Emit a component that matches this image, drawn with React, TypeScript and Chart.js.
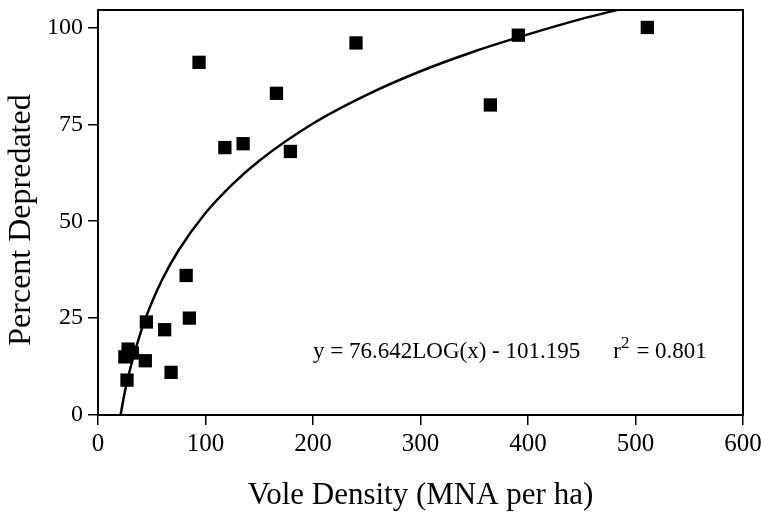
import React, { useEffect, useRef } from "react";
import { Chart, registerables } from "chart.js";

Chart.register(...registerables);

// Observed points: vole density (MNA per ha) vs percent depredated
const densityX = [27, 25, 28, 32, 44, 45, 62, 68, 82, 85, 94, 118, 135, 166, 179, 240, 365, 391, 511];
const depredatedY = [9, 15, 17, 16, 14, 24, 22, 11, 36, 25, 91, 69, 70, 83, 68, 96, 80, 98, 100];

// Fitted curve (y = 76.642 LOG(x) - 101.195)
const curveX = [21, 25, 30, 40, 50, 60, 75, 100, 125, 150, 200, 250, 300, 350, 400, 450, 490];
const curveY = [0, 6, 12, 21.6, 29, 35.1, 42.5, 52.1, 59.5, 65.6, 75.2, 82.6, 88.7, 93.8, 98.2, 102.2, 105];

const xTicks = [0, 100, 200, 300, 400, 500, 600];
const yTicks = [0, 25, 50, 75, 100];

const yTitle = "Percent Depredated";
const xTitle = "Vole Density (MNA per ha)";
const equationText = "y = 76.642LOG(x) - 101.195";
const r2Text = "= 0.801";

const FONT = "'Liberation Serif', 'Times New Roman', serif";

export default function App() {
  const ref = useRef<HTMLCanvasElement | null>(null);

  useEffect(() => {
    if (!ref.current) return;

    const framePlugin = {
      id: "frameAndEquation",
      afterDraw(chart: any) {
        const { ctx, chartArea } = chart;
        ctx.save();
        ctx.strokeStyle = "#000";
        ctx.lineWidth = 2;
        ctx.strokeRect(chartArea.left, chartArea.top, chartArea.right - chartArea.left, chartArea.bottom - chartArea.top);

        ctx.fillStyle = "#000";

        // y-axis title
        ctx.save();
        ctx.translate(22, chartArea.top + 210);
        ctx.rotate(-Math.PI / 2);
        ctx.textAlign = "center";
        ctx.textBaseline = "middle";
        ctx.font = `32px ${FONT}`;
        ctx.fillText(yTitle, 0, 0);
        ctx.restore();

        // equation annotation
        ctx.textBaseline = "alphabetic";
        ctx.textAlign = "left";
        ctx.font = `23px ${FONT}`;
        let x = chartArea.left + 215;
        const y = chartArea.top + 348;
        ctx.fillText(equationText, x, y);
        x += ctx.measureText(equationText).width + 33;
        ctx.fillText("r", x, y);
        x += ctx.measureText("r").width;
        ctx.font = `17px ${FONT}`;
        ctx.fillText("2", x, y - 10);
        x += ctx.measureText("2").width + 7;
        ctx.font = `23px ${FONT}`;
        ctx.fillText(r2Text, x, y);
        ctx.restore();
      },
    };

    const chart = new Chart(ref.current, {
      type: "scatter",
      data: {
        datasets: [
          {
            label: "Observed",
            data: densityX.map((x, i) => ({ x, y: depredatedY[i] })),
            pointStyle: "rect",
            pointRadius: 9.4,
            pointHoverRadius: 9.4,
            backgroundColor: "#000",
            borderColor: "#000",
            borderWidth: 0,
            showLine: false,
          },
          {
            label: "Fit",
            data: curveX.map((x, i) => ({ x, y: curveY[i] })),
            showLine: true,
            pointRadius: 0,
            borderColor: "#000",
            borderWidth: 2.5,
            cubicInterpolationMode: "monotone",
            fill: false,
          },
        ],
      },
      options: {
        responsive: false,
        animation: false,
        devicePixelRatio: 1,
        layout: { padding: { top: 10, right: 18, left: 0, bottom: 0 } },
        plugins: {
          legend: { display: false },
          tooltip: { enabled: false },
        },
        scales: {
          x: {
            type: "linear",
            min: 0,
            max: 600,
            afterFit(scale: any) {
              scale.height = 100;
              scale.paddingLeft = 0;
              scale.paddingRight = 0;
            },
            afterBuildTicks(scale: any) {
              scale.ticks = xTicks.map((v) => ({ value: v }));
            },
            ticks: {
              includeBounds: false,
              color: "#000",
              font: { family: FONT, size: 25 },
              padding: 4,
              maxRotation: 0,
            },
            grid: {
              drawOnChartArea: false,
              drawTicks: true,
              tickLength: 10,
              color: "#000",
              lineWidth: 1.5,
            },
            border: { display: true, color: "#000", width: 2 },
            title: {
              display: true,
              text: xTitle,
              color: "#000",
              font: { family: FONT, size: 31 },
              padding: { top: 23, bottom: 1 },
            },
          },
          y: {
            type: "linear",
            min: 0,
            max: 104.5,
            afterFit(scale: any) {
              scale.width = 98;
              scale.paddingTop = 0;
              scale.paddingBottom = 0;
            },
            afterBuildTicks(scale: any) {
              scale.ticks = yTicks.map((v) => ({ value: v }));
            },
            ticks: {
              includeBounds: false,
              color: "#000",
              font: { family: FONT, size: 24 },
              padding: 5,
            },
            grid: {
              drawOnChartArea: false,
              drawTicks: true,
              tickLength: 10,
              color: "#000",
              lineWidth: 1.5,
            },
            border: { display: true, color: "#000", width: 2 },
            title: { display: false },
          },
        },
      },
      plugins: [framePlugin],
    });

    return () => chart.destroy();
  }, []);

  return (
    <div style={{ position: "fixed", left: 0, top: 0, width: 761, height: 515, background: "#fff" }}>
      <canvas ref={ref} width={761} height={515} style={{ width: 761, height: 515 }} />
    </div>
  );
}
